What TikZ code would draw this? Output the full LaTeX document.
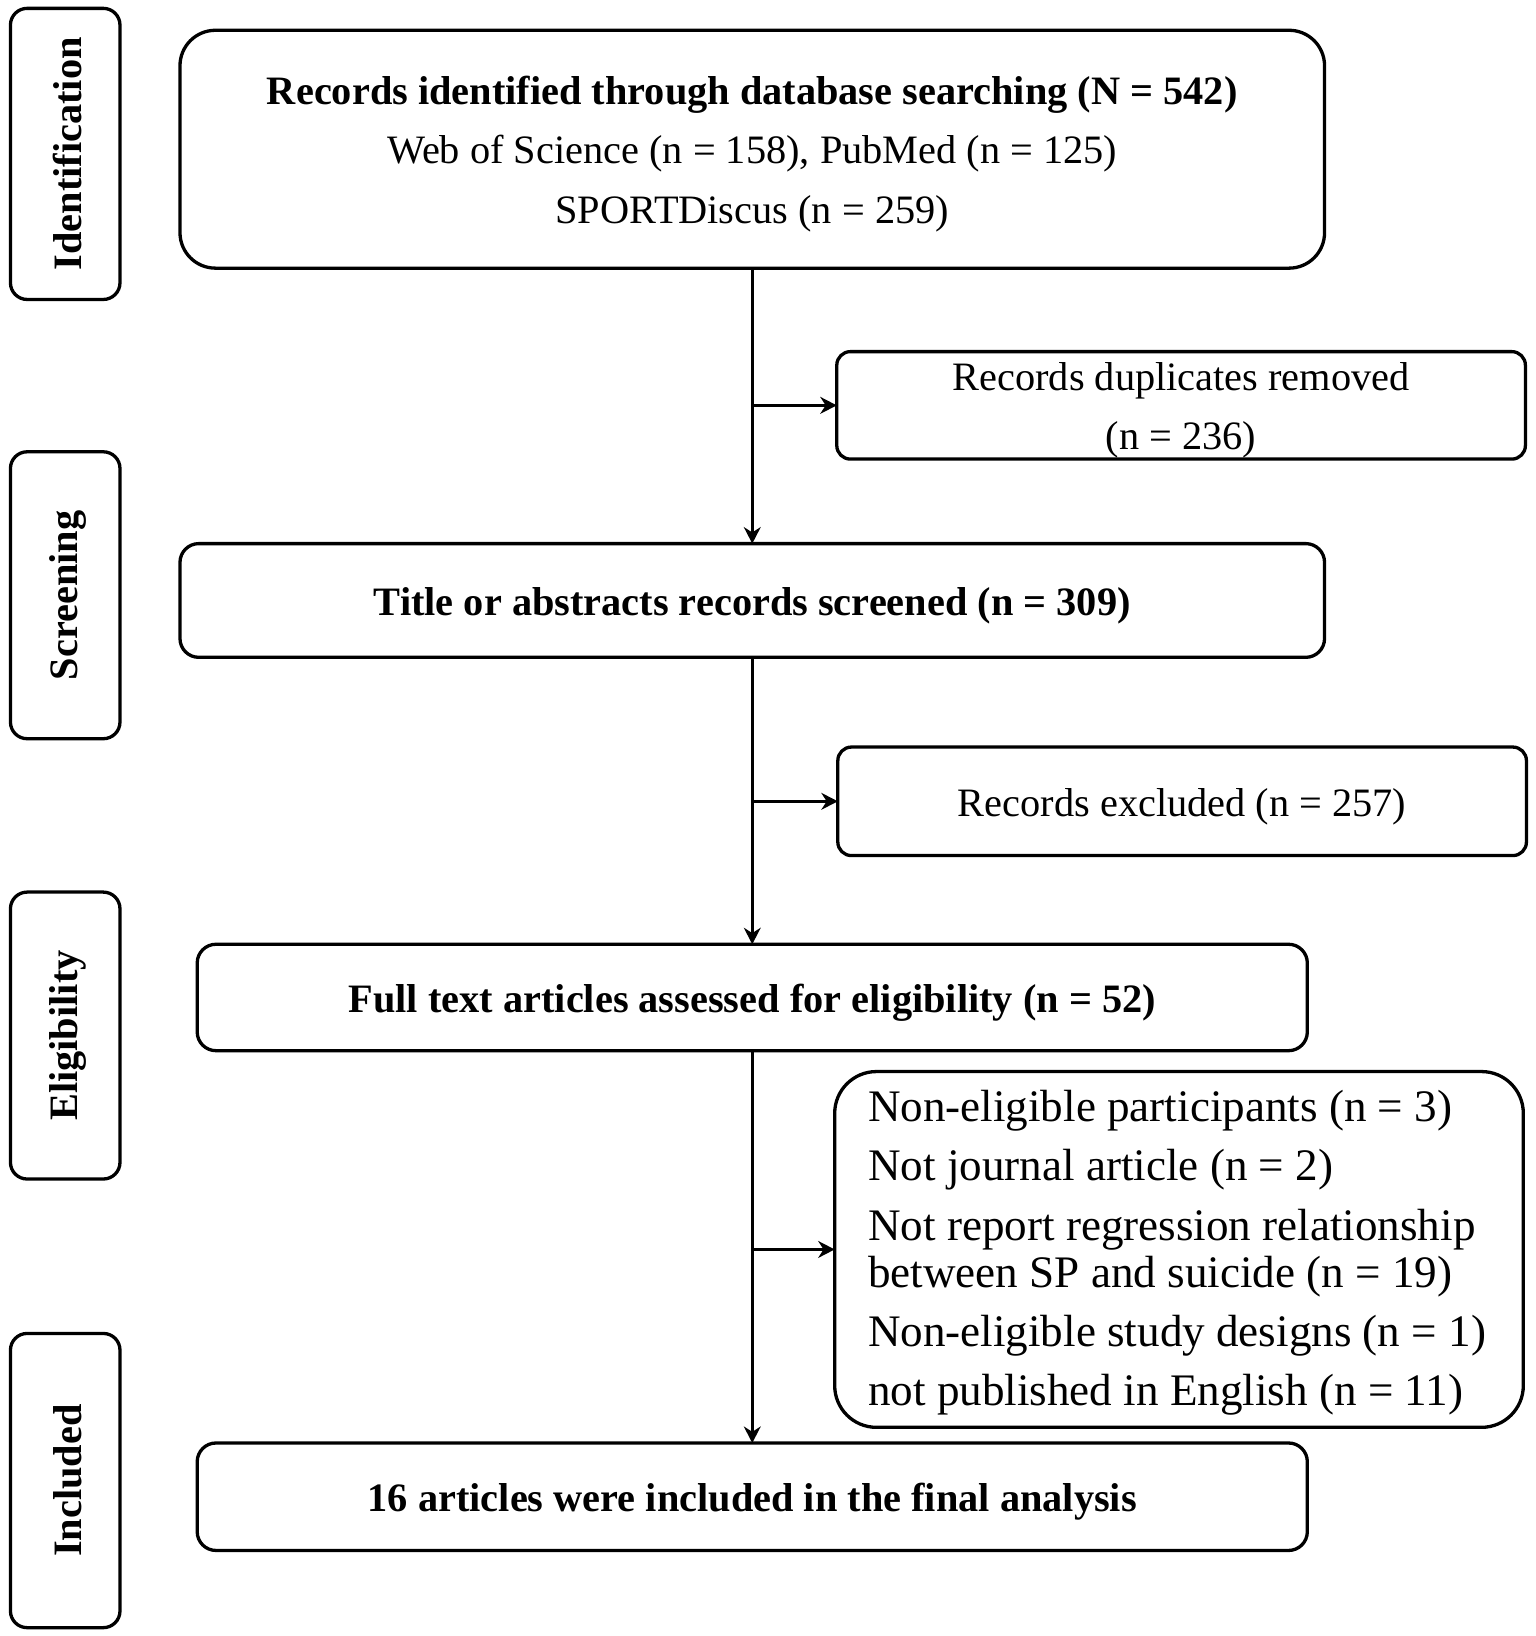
\documentclass[tikz,border=0pt]{standalone}
\usepackage{fontspec}
\setmainfont{Liberation Serif}
\usetikzlibrary{arrows.meta}
\newcommand{\firstline}{\rule{0pt}{10.4pt}}
\begin{document}
\begin{tikzpicture}[x=0.1mm,y=-0.1mm,>={Stealth[length=4.5pt,width=4.6pt]},
	box/.style={draw,line width=0.9pt,rounded corners=1.8mm,inner sep=0pt,outer sep=0pt,align=center,
		font=\fontsize{11}{16.2}\selectfont,execute at begin node={\firstline}},
	sidebox/.style={draw,line width=0.9pt,rounded corners=1.6mm,rotate=90,minimum height=10.5mm,inner sep=0pt,
		font=\fontsize{11}{13}\selectfont\bfseries,execute at begin node={\rule{0pt}{9.2pt}}},
	flow/.style={->,line width=0.7pt}]
	\useasboundingbox (0,0) rectangle (1472,1568);
	% phases on the left
	\foreach \lab/\y/\h in {Identification/147.5/27.9,Screening/570.5/27.5,Eligibility/992.5/27.5,Included/1419/28.2}
		\node[sidebox,minimum width=\h mm] (side-\lab) at (62.5,\y) {\lab};
	% main column
	\node[box,rounded corners=3.4mm,minimum width=109.7mm,minimum height=22.8mm] (found) at (721,143)
		{\firstline\textbf{Records identified through database searching (N = 542)}\\
		Web of Science (n = 158), PubMed (n = 125)\\
		SPORTDiscus (n = 259)};
	\node[box,minimum width=109.7mm,minimum height=10.9mm] (screened) at (721,575.5)
		{\textbf{Title or abstracts records screened (n = 309)}};
	\node[box,minimum width=106.4mm,minimum height=10.2mm] (fulltext) at (721,956)
		{\textbf{Full text articles assessed for eligibility (n = 52)}};
	\node[box,minimum width=106.4mm,minimum height=10.3mm] (final) at (721,1434.5)
		{\textbf{16 articles were included in the final analysis}};
	% side column
	\node[box,rounded corners=1.3mm,minimum width=66mm,minimum height=10.3mm] (dupl) at (1132,388.5)
		{\firstline Records duplicates removed\\(n = 236)};
	\node[box,rounded corners=1.3mm,minimum width=66mm,minimum height=10.4mm] (excl) at (1133,768)
		{Records excluded (n = 257)};
	\node[box,rounded corners=4mm,minimum width=66mm,minimum height=34.1mm,text width=59.6mm,
		align=flush left,font=\fontsize{12.3}{16.2}\selectfont] (reasons) at (1130,1197.5)
		{Non-eligible participants (n = 3)\\
		Not journal article (n = 2)\\
		Not report regression relationship\\[-3.4pt]
		between SP and suicide (n = 19)\\
		Non-eligible study designs (n = 1)\\
		not published in English (n = 11)};
	% connectors
	\draw[flow] (found.south) -- (screened.north);
	\draw[flow] (screened.south) -- (fulltext.north);
	\draw[flow] (fulltext.south) -- (final.north);
	\draw[flow] (found.south |- dupl.west) -- (dupl.west);
	\draw[flow] (screened.south |- excl.west) -- (excl.west);
	\draw[flow] (fulltext.south |- reasons.west) -- (reasons.west);
\end{tikzpicture}
\end{document}
